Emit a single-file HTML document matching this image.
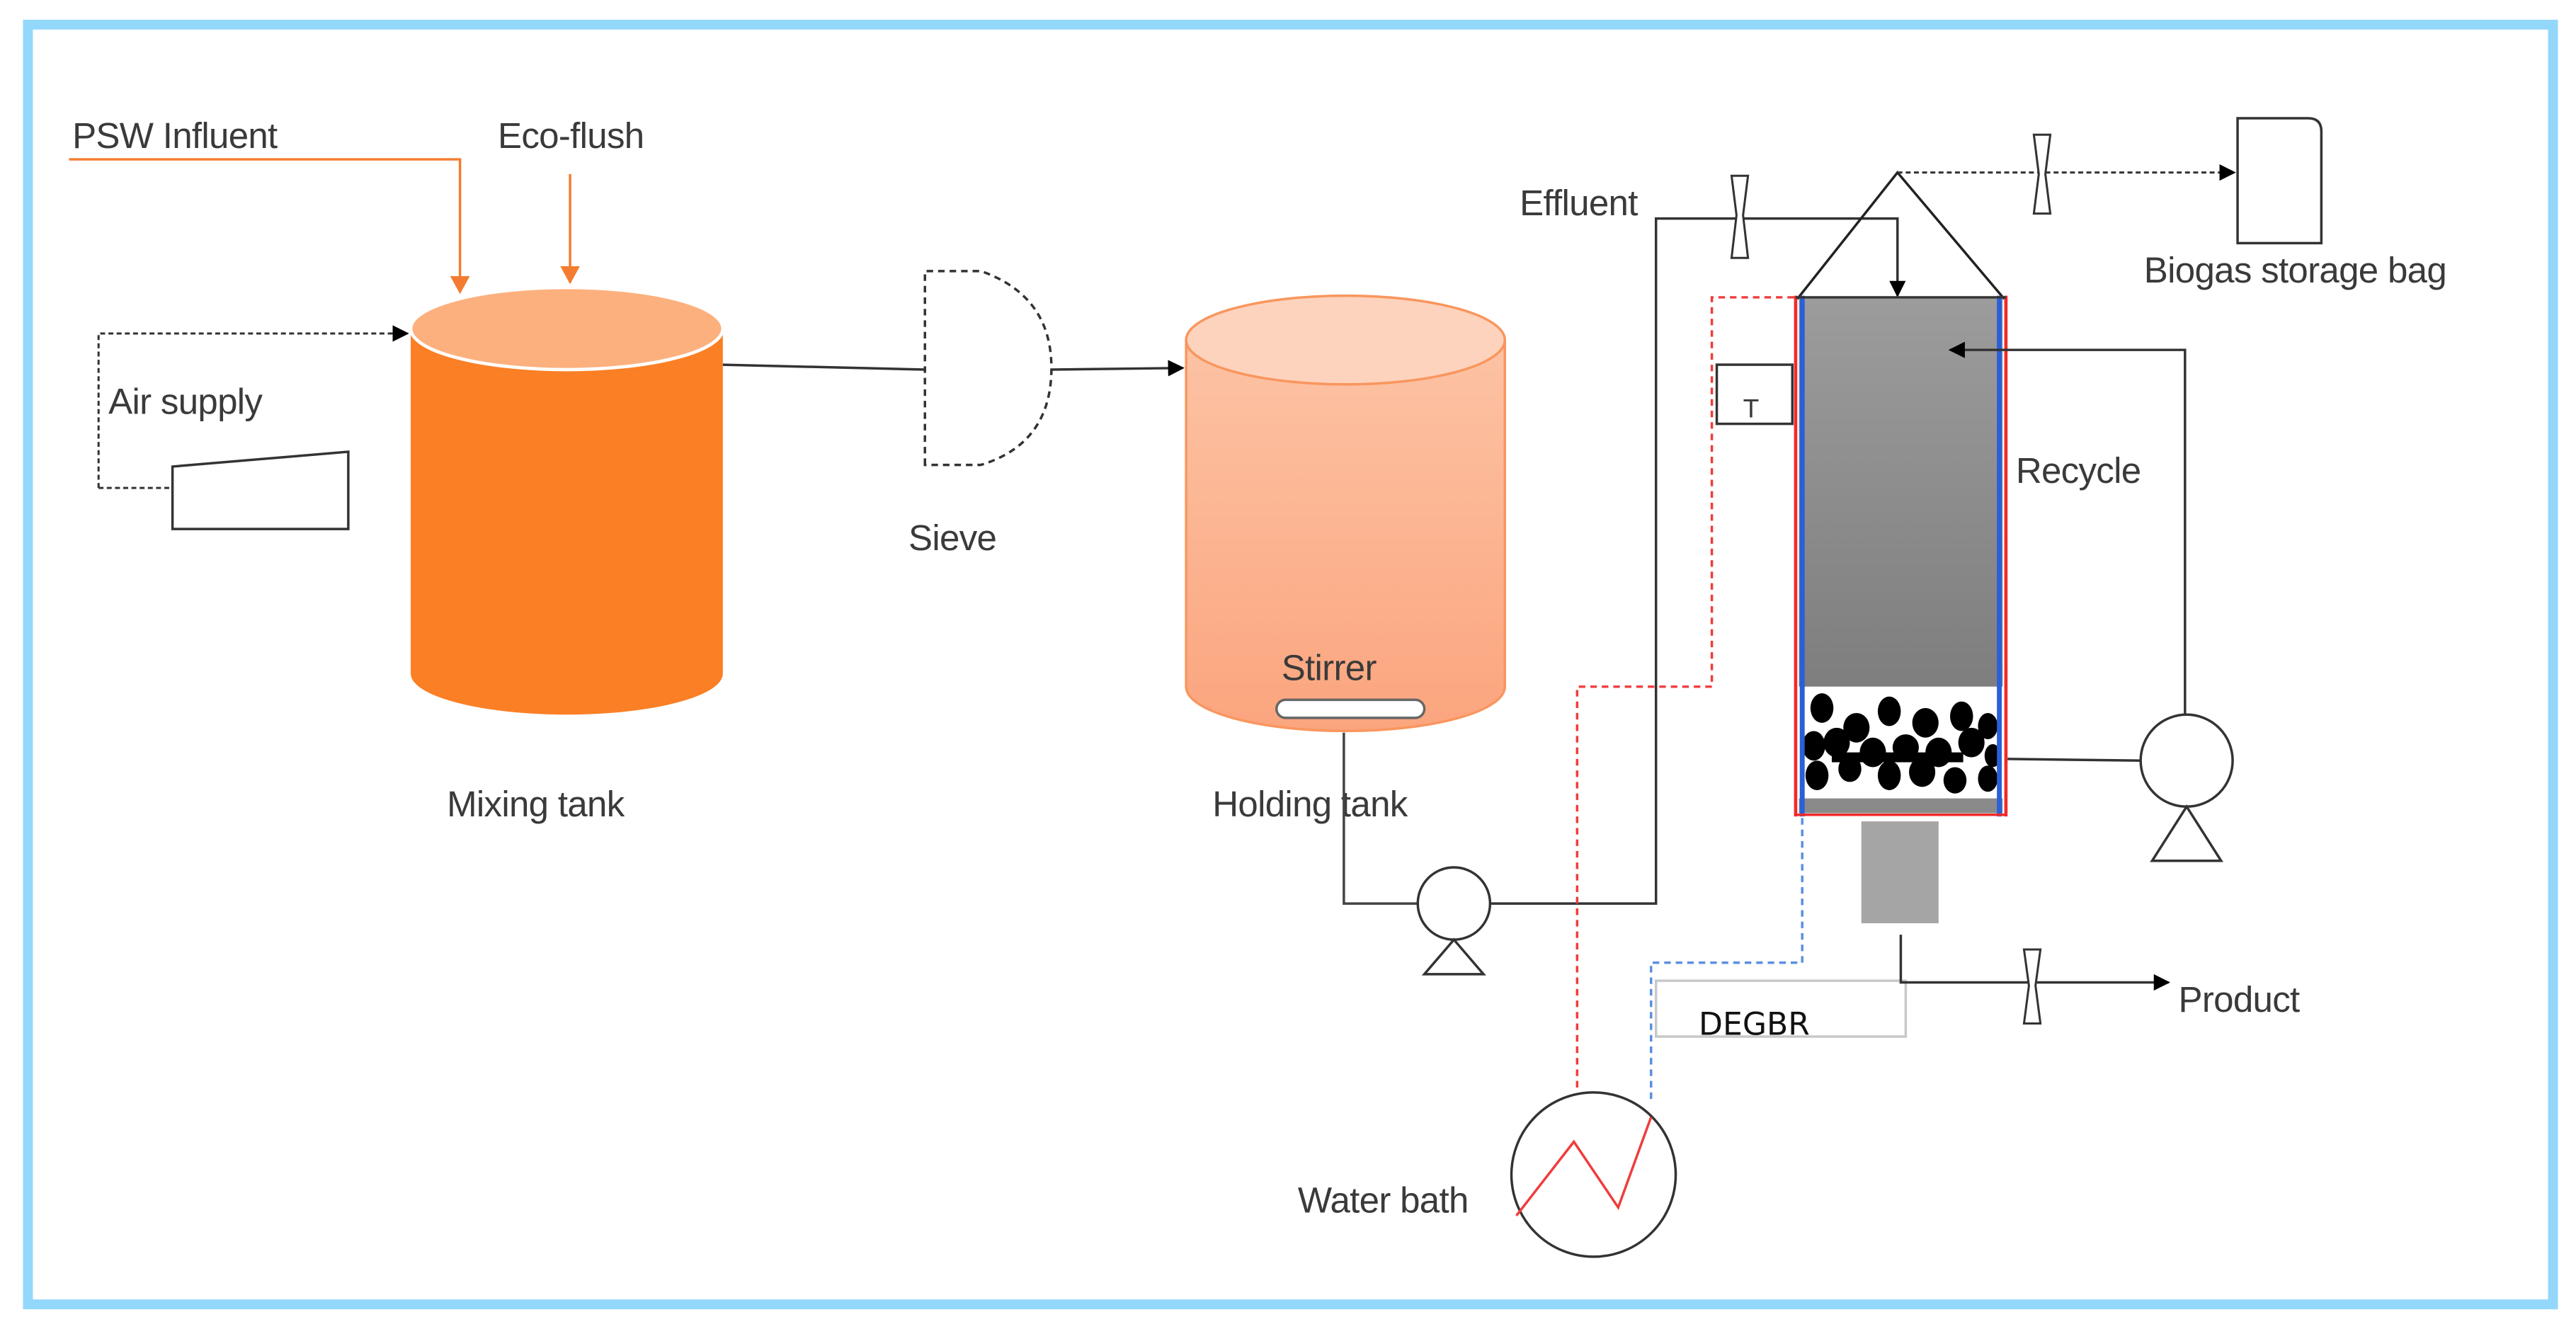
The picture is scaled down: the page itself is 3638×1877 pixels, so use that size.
<!DOCTYPE html>
<html><head><meta charset="utf-8"><style>
html,body{margin:0;padding:0;background:#fff;}
svg{display:block;}
text{font-family:"Liberation Sans",sans-serif;fill:#3a3a3a;font-size:22px;letter-spacing:-0.3px;}
</style></head><body>
<svg width="3638" height="1877" viewBox="0 0 1568 809" preserveAspectRatio="none" xmlns="http://www.w3.org/2000/svg">
<defs>
<marker id="ab" markerWidth="10" markerHeight="10" refX="9" refY="5" orient="auto" markerUnits="userSpaceOnUse"><path d="M0,0 L10,5 L0,10 z" fill="#000"/></marker>
<marker id="ao" markerWidth="12" markerHeight="12" refX="10" refY="6" orient="auto" markerUnits="userSpaceOnUse"><path d="M0,0 L11,6 L0,12 z" fill="#f47c30"/></marker>
<linearGradient id="hold" x1="0" y1="0" x2="0" y2="1"><stop offset="0" stop-color="#fcc3a4"/><stop offset="1" stop-color="#fba57e"/></linearGradient>
<linearGradient id="reac" x1="0" y1="0" x2="0" y2="1"><stop offset="0" stop-color="#9c9c9c"/><stop offset="1" stop-color="#7e7e7e"/></linearGradient>
</defs>
<rect x="0" y="0" width="1568" height="809" fill="#fff"/>
<rect x="17" y="15" width="1537" height="779" fill="none" stroke="#93d7fb" stroke-width="6"/>

<text x="44" y="90">PSW Influent</text>
<polyline points="42,97 280,97 280,178" fill="none" stroke="#f47c30" stroke-width="1.5" marker-end="url(#ao)"/>
<text x="303" y="90">Eco-flush</text>
<line x1="347" y1="106" x2="347" y2="172" stroke="#f47c30" stroke-width="1.5" marker-end="url(#ao)"/>

<polyline points="60,297 60,203 248,203" fill="none" stroke="#333" stroke-width="1.3" stroke-dasharray="3,2" marker-end="url(#ab)"/>
<line x1="60" y1="297" x2="105" y2="297" stroke="#333" stroke-width="1.3" stroke-dasharray="3,2"/>
<polygon points="105,284 212,275 212,322 105,322" fill="#fff" stroke="#333" stroke-width="1.5"/>
<text x="66" y="252">Air supply</text>

<path d="M250,200 L250,410 A95,25 0 0 0 440,410 L440,200 z" fill="#fb7f25"/>
<ellipse cx="345" cy="200" rx="95" ry="25" fill="#fcb07e" stroke="#fff" stroke-width="2"/>
<text x="272" y="497">Mixing tank</text>

<polyline points="440,222 563,225" fill="none" stroke="#333" stroke-width="1.5"/>
<path d="M563,283 L563,165 L597,165 Q640,180 640,224 Q640,270 597,283 z" fill="none" stroke="#333" stroke-width="1.5" stroke-dasharray="4,3"/>
<text x="553" y="335">Sieve</text>
<line x1="640" y1="225" x2="720" y2="224" stroke="#333" stroke-width="1.5" marker-end="url(#ab)"/>

<path d="M722,207 L722,418 A97,27 0 0 0 916,418 L916,207 z" fill="url(#hold)" stroke="#f9965e" stroke-width="1.5"/>
<ellipse cx="819" cy="207" rx="97" ry="27" fill="#fdd3bd" stroke="#f9965e" stroke-width="1.5"/>
<text x="780" y="414">Stirrer</text>
<rect x="777" y="426" width="90" height="11" rx="5.5" fill="#fff" stroke="#666" stroke-width="1.5"/>
<text x="738" y="497">Holding tank</text>

<polyline points="818,446 818,550 863,550" fill="none" stroke="#444" stroke-width="1.5"/>
<circle cx="885" cy="550" r="22" fill="#fff" stroke="#333" stroke-width="1.5"/>
<polygon points="885,572 867,593 903,593" fill="#fff" stroke="#333" stroke-width="1.5"/>
<polyline points="907,550 1008,550 1008,133 1155,133 1155,180" fill="none" stroke="#333" stroke-width="1.5" marker-end="url(#ab)"/>
<text x="925" y="131">Effluent</text>
<path d="M1054,107 L1064,107 L1061,131 L1064,157 L1054,157 L1057,131 z" fill="#fff" stroke="#333" stroke-width="1.3"/>

<polyline points="1094,182 1155,105 1220,182" fill="none" stroke="#222" stroke-width="1.5"/>
<line x1="1155" y1="105" x2="1360" y2="105" stroke="#333" stroke-width="1.3" stroke-dasharray="3,2" marker-end="url(#ab)"/>
<path d="M1238,82 L1248,82 L1245,106 L1248,130 L1238,130 L1241,106 z" fill="#fff" stroke="#333" stroke-width="1.3"/>
<path d="M1362,72 L1405,72 Q1413,72 1413,80 L1413,148 L1362,148 z" fill="#fff" stroke="#333" stroke-width="1.5"/>
<text x="1305" y="172">Biogas storage bag</text>

<rect x="1095" y="181" width="124" height="237" fill="url(#reac)"/>
<rect x="1095" y="418" width="124" height="68" fill="#fff"/>
<rect x="1095" y="486" width="124" height="9" fill="#8a8a8a"/>
<g fill="#000">
<ellipse cx="1109" cy="431" rx="7" ry="9"/><ellipse cx="1130" cy="443" rx="8" ry="9"/><ellipse cx="1150" cy="433" rx="7" ry="9"/><ellipse cx="1172" cy="440" rx="8" ry="9"/><ellipse cx="1194" cy="436" rx="7" ry="9"/><ellipse cx="1210" cy="442" rx="6" ry="8"/>
<ellipse cx="1104" cy="454" rx="7" ry="9"/><ellipse cx="1118" cy="452" rx="8" ry="9"/><ellipse cx="1140" cy="458" rx="8" ry="9"/><ellipse cx="1160" cy="455" rx="8" ry="8"/><ellipse cx="1180" cy="458" rx="8" ry="9"/><ellipse cx="1200" cy="452" rx="8" ry="9"/><ellipse cx="1213" cy="460" rx="5" ry="7"/>
<ellipse cx="1106" cy="472" rx="7" ry="9"/><ellipse cx="1126" cy="468" rx="7" ry="8"/><ellipse cx="1150" cy="472" rx="7" ry="9"/><ellipse cx="1170" cy="470" rx="8" ry="9"/><ellipse cx="1190" cy="475" rx="7" ry="8"/><ellipse cx="1210" cy="474" rx="6" ry="8"/>
<rect x="1115" y="458" width="80" height="6"/>
</g>
<line x1="1093" y1="180" x2="1093" y2="497" stroke="#f02a2a" stroke-width="2"/>
<line x1="1097" y1="180" x2="1097" y2="497" stroke="#2a5fd8" stroke-width="3"/>
<line x1="1221" y1="180" x2="1221" y2="497" stroke="#f02a2a" stroke-width="2"/>
<line x1="1217" y1="180" x2="1217" y2="497" stroke="#2a5fd8" stroke-width="3"/>
<line x1="1093" y1="181" x2="1221" y2="181" stroke="#333" stroke-width="1.5"/>
<line x1="1093" y1="496" x2="1221" y2="496" stroke="#f02a2a" stroke-width="1.5"/>

<rect x="1045" y="222" width="46" height="36" fill="#fff" stroke="#333" stroke-width="1.5"/>
<text x="1061" y="254" style="font-size:16px">T</text>

<polyline points="1222,462 1304,463" fill="none" stroke="#333" stroke-width="1.5"/>
<circle cx="1331" cy="463" r="28" fill="#fff" stroke="#333" stroke-width="1.5"/>
<polygon points="1331,491 1310,524 1352,524" fill="#fff" stroke="#333" stroke-width="1.5"/>
<polyline points="1330,435 1330,213 1187,213" fill="none" stroke="#333" stroke-width="1.5" marker-end="url(#ab)"/>
<text x="1227" y="294">Recycle</text>

<rect x="1133" y="500" width="47" height="62" fill="#a5a5a5"/>
<rect x="1008" y="597" width="152" height="34" fill="#fff" stroke="#c8c8c8" stroke-width="1.5"/>
<text x="1034" y="630" style="fill:#111;font-family:'DejaVu Sans',sans-serif;font-size:19px;letter-spacing:0">DEGBR</text>
<polyline points="1157,569 1157,598 1320,598" fill="none" stroke="#333" stroke-width="1.5" marker-end="url(#ab)"/>
<path d="M1232,578 L1242,578 L1239,600 L1242,623 L1232,623 L1235,600 z" fill="#fff" stroke="#333" stroke-width="1.3"/>
<text x="1326" y="616">Product</text>

<polyline points="1092,181 1042,181 1042,418 960,418 960,663" fill="none" stroke="#f03c3c" stroke-width="1.5" stroke-dasharray="4,3"/>
<polyline points="1097,498 1097,586 1005,586 1005,670" fill="none" stroke="#5b8fe0" stroke-width="1.5" stroke-dasharray="4,3"/>
<circle cx="970" cy="715" r="50" fill="none" stroke="#333" stroke-width="1.5"/>
<polyline points="923,740 958,695 985,735 1005,680" fill="none" stroke="#f03c3c" stroke-width="1.5"/>
<text x="790" y="738">Water bath</text>
</svg>
</body></html>
